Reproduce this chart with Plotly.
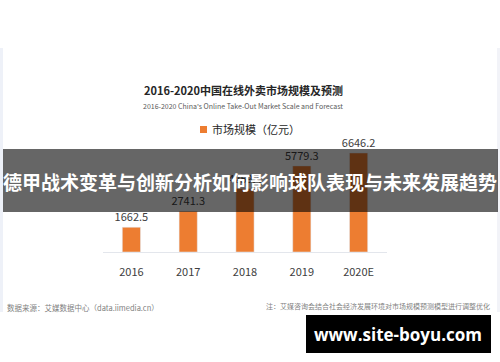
import plotly.graph_objects as go

categories = ["2016", "2017", "2018", "2019", "2020E"]
values = [1662.5, 2741.3, 4259.4, 5779.3, 6646.2]
value_labels = ["1662.5", "2741.3", "4259.4", "5779.3", "6646.2"]

title_cn = "2016-2020中国在线外卖市场规模及预测"
title_en = "2016-2020 China's Online Take-Out Market Scale and Forecast"
series_name = "市场规模（亿元）"
banner_text = "德甲战术变革与创新分析如何影响球队表现与未来发展趋势"
source_text = "数据来源：艾媒数据中心（data.iimedia.cn）"
note_text = "注：艾媒咨询会结合社会经济发展环境对市场规模预测模型进行调整优化"
site_text = "www.site-boyu.com"

W, H = 500, 362
CJK = "Noto Sans CJK SC"
ORANGE = "#ED7D31"


def py(y):  # pixel-from-top to paper y
    return 1 - y / H


def px(x):
    return x / W


fig = go.Figure()
fig.add_trace(go.Bar(
    x=categories, y=values, text=value_labels, textposition="outside",
    constraintext="none",
    textfont=dict(family=CJK, size=11, color="#404040"),
    marker=dict(color=ORANGE), cliponaxis=False, name=series_name,
    hoverinfo="skip",
))

shapes = [
    # screenshot panel
    dict(type="rect", xref="paper", yref="paper", x0=px(0), x1=px(500),
         y0=py(312), y1=py(48), fillcolor="white", line=dict(width=0), layer="below"),
    dict(type="rect", xref="paper", yref="paper", x0=px(0), x1=px(3),
         y0=py(312), y1=py(48), fillcolor="#eef1f8", line=dict(width=0), layer="below"),
    dict(type="rect", xref="paper", yref="paper", x0=px(497), x1=px(500),
         y0=py(312), y1=py(48), fillcolor="#f2f3f8", line=dict(width=0), layer="below"),
    # legend swatch
    dict(type="rect", xref="paper", yref="paper", x0=px(200), x1=px(207),
         y0=py(133), y1=py(126), fillcolor=ORANGE, line=dict(width=0)),
    # banner overlay
    dict(type="rect", xref="paper", yref="paper", x0=px(3), x1=px(498),
         y0=py(212), y1=py(149), fillcolor="rgba(0,0,0,0.6)", line=dict(width=0),
         layer="above"),
    # site box
    dict(type="rect", xref="paper", yref="paper", x0=px(306), x1=px(491),
         y0=py(353), y1=py(315), fillcolor="black", line=dict(width=0), layer="above"),
]

annotations = [
    dict(text="<b>" + title_cn + "</b>", x=px(243), y=py(90), font=dict(family=CJK, size=11, color="#262626")),
    dict(text=title_en, x=px(243), y=py(106), font=dict(family=CJK, size=7, color="#595959")),
    dict(text=series_name, x=px(210), y=py(129), xanchor="left", font=dict(family=CJK, size=11, color="#262626")),
    dict(text="<b>" + banner_text + "</b>", x=px(250), y=py(181), font=dict(family=CJK, size=19, color="white")),
    dict(text=source_text, x=px(5), y=py(307), xanchor="left", font=dict(family=CJK, size=7.5, color="#7f7f7f")),
    dict(text=note_text, x=px(492), y=py(306), xanchor="right", font=dict(family=CJK, size=7, color="#7f7f7f")),
    dict(text="<b>" + site_text + "</b>", x=px(398), y=py(334), font=dict(family="Open Sans", size=17, color="white")),
]
for a in annotations:
    a.update(xref="paper", yref="paper", showarrow=False, yanchor="middle")
    a.setdefault("xanchor", "center")

fig.update_layout(
    width=W, height=H, margin=dict(l=0, r=0, t=0, b=0),
    paper_bgcolor="white", plot_bgcolor="rgba(0,0,0,0)",
    showlegend=False, bargap=0.68,
    shapes=shapes, annotations=annotations,
    xaxis=dict(domain=[px(103), px(387)], range=[-0.5, 4.5], showline=True,
               linecolor="#e3e6ec", linewidth=1, showgrid=False, zeroline=False,
               ticks="", ticklabelstandoff=10,
               tickfont=dict(family=CJK, size=11, color="#404040")),
    yaxis=dict(domain=[py(252), py(132.8)], range=[0, 8000], visible=False),
)

fig.write_html("out.html", config={"displayModeBar": False},
               post_script="document.body.style.margin='0';document.body.style.overflow='hidden';")
